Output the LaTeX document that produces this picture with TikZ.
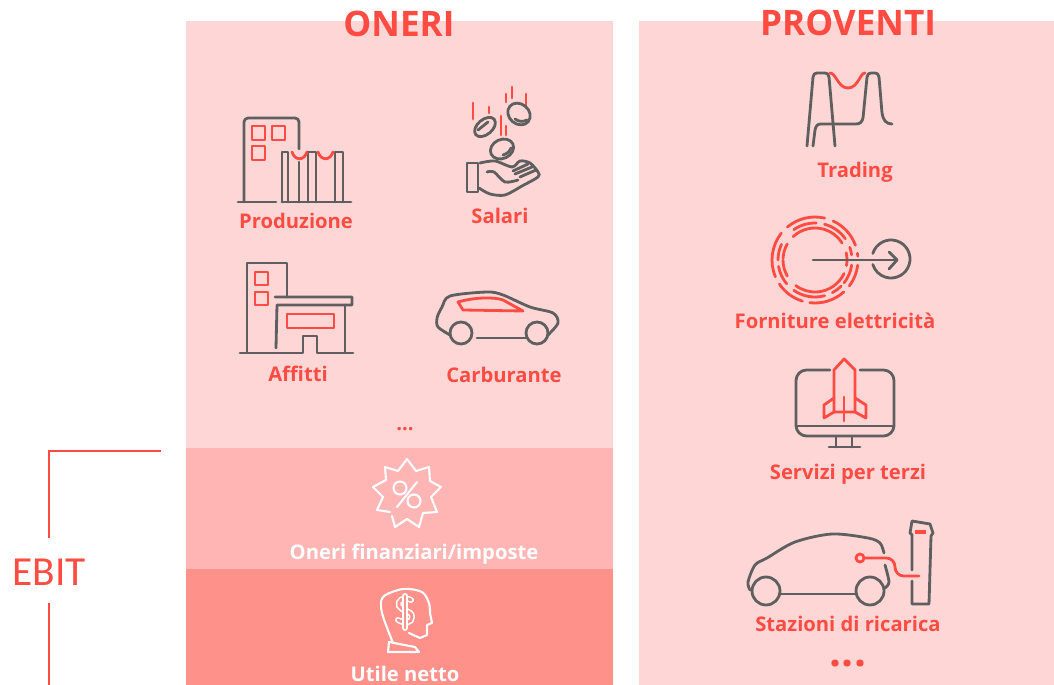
\documentclass[tikz,border=0pt]{standalone}
\usepackage{fontspec}
\setmainfont{Open Sans}
\newfontfamily\ebitfont{Carlito}
\definecolor{panelpink}{HTML}{FFD6D6}
\definecolor{bandpink}{HTML}{FFB5B3}
\definecolor{bandred}{HTML}{FF918B}
\definecolor{redtone}{HTML}{FF4B42}
\definecolor{graytone}{HTML}{5F5F5F}
\tikzset{
  panel/.style={draw=none,fill=panelpink},
  graystroke/.style={draw=graytone,line width=1.6pt,line cap=round,line join=round},
  redstroke/.style={draw=redtone,line width=1.6pt,line cap=round,line join=round},
  whitestroke/.style={draw=white,line width=1.2pt,line cap=round,line join=round},
  itemlabel/.style={text=redtone,font=\fontsize{11.5}{13}\selectfont\bfseries,inner sep=0pt},
  bandlabel/.style={itemlabel,text=white},
  headlabel/.style={text=redtone,font=\fontsize{20}{22}\selectfont\bfseries,inner sep=0pt}
}
\begin{document}
\begin{tikzpicture}[x=0.02cm,y=-0.02cm]
  \useasboundingbox (0,0) rectangle (1054,685);
  % panels
  \fill[panelpink] (186,21) rectangle (613,448);
  \fill[bandpink] (186,448) rectangle (613,569);
  \fill[bandred] (186,569) rectangle (613,685);
  \fill[panelpink] (639,21) rectangle (1054,685);
  \node[headlabel] (oneri) at (399,24) {ONERI};
  \node[headlabel] (proventi) at (848,23) {PROVENTI};
  % EBIT bracket
  \node[text=redtone,font=\fontsize{23.5}{26}\selectfont\ebitfont,inner sep=0pt] (ebit) at (49,572) {EBIT};
  \coordinate (ebittop) at (161,451);
  \coordinate (ebitcorner) at (49,451);
  \coordinate (ebitbottom) at (49,685);
  \draw[redtone,line width=1pt] (ebittop) -- (ebitcorner) -- (49,538);
  \draw[redtone,line width=1pt] (49,603) -- (ebitbottom);
  % Produzione
  \draw[graystroke] (244,202) -- (244,122) arc[start angle=180,end angle=270,radius=4] -- (295,118)
    arc[start angle=270,end angle=360,radius=4] -- (299,149);
  \draw[graystroke] (299,162) -- (299,202);
  \draw[graystroke] (238,202) -- (276,202);
  \draw[graystroke] (282,202) -- (351,202);
  \draw[graystroke] (282,202) -- (282,152) -- (288,152) -- (288,202);
  \draw[graystroke] (308,202) -- (308,152) -- (316,152) -- (316,202);
  \draw[graystroke] (335,202) -- (335,152) -- (343,152) -- (343,202);
  \draw[redstroke] (252,126) rectangle (265,140);
  \draw[redstroke] (272,126) rectangle (285,140);
  \draw[redstroke] (252,146) rectangle (265,160);
  \draw[redstroke] (292,152) .. controls (295,161) and (304,161) .. (307,152);
  \draw[redstroke] (318,152) .. controls (321,161) and (330,161) .. (333,152);
  \node[itemlabel] (produzione) at (296,221) {Produzione};
  % Salari
  \foreach \xa/\ya/\yb in {473/103/119,489/107/113,501/116/135,506/126/135,506/94/102,512/87/98,526/94/105}
    \draw[redstroke] (\xa,\ya) -- (\xa,\yb);
  \draw[graystroke,rotate around={40:(485,127)}] (485,127) ellipse [x radius=12,y radius=7.5];
  \draw[graystroke,rotate around={-40:(519,114)}] (519,114) ellipse [x radius=12,y radius=10];
  \draw[graystroke,rotate around={25:(502,149)}] (502,149) ellipse [x radius=12,y radius=9.5];
  \draw[graystroke] (478,130) -- (488,122);
  \draw[graystroke] (515,119) .. controls (519,122) and (523,122) .. (527,120);
  \draw[graystroke] (503,155) .. controls (507,154) and (510,151) .. (511,148);
  \draw[graystroke] (467,163) rectangle (478,192);
  \draw[graystroke] plot[smooth,tension=0.5] coordinates {(480,163) (495,161) (512,167) (520,161) (530,163) (538,172) (538,177) (522,186) (505,195) (490,194) (479,188)};
  \draw[graystroke] plot[smooth,tension=0.5] coordinates {(487,172) (494,172) (505,182) (518,180)};
  \draw[graystroke] (513,171) -- (528,164);
  \draw[graystroke] (515,174) -- (532,167);
  \draw[graystroke] (520,177) -- (536,170);
  \node[itemlabel] (salari) at (500,216) {Salari};
  % Affitti
  \draw[graystroke] (247,352) -- (247,263) -- (287,263) -- (287,297);
  \draw[graystroke] (275,297) -- (352,297) -- (352,305) -- (277,305) -- (276,348);
  \draw[graystroke] (345,305) -- (345,352);
  \draw[graystroke] (240,353) -- (303,353) -- (303,336) -- (317,336) -- (317,353) -- (353,353);
  \draw[redstroke] (255,272) rectangle (268,285);
  \draw[redstroke] (255,292) rectangle (268,305);
  \draw[redstroke] (287,314) rectangle (334,328);
  \node[itemlabel] (affitti) at (298,374) {Affitti};
  % Carburante
  \draw[graystroke] plot[smooth,tension=0.5] coordinates {(450,335) (438,327) (437,318) (442,307) (450,296) (487,292) (503,295) (530,307) (553,313) (558,323) (548,335)};
  \draw[graystroke] (461,333) circle [radius=11];
  \draw[graystroke] (537,333) circle [radius=11];
  \draw[graystroke] (477,338) -- (526,338);
  \draw[redstroke] (458,302) .. controls (475,297) and (495,297) .. (503,300) -- (523,311) -- (463,310) -- cycle;
  \node[itemlabel] (carburante) at (504,375) {Carburante};
  \node[itemlabel] (dotsoneri) at (405,429) {...};
  % Oneri finanziari
  \draw[whitestroke] (390,512) -- (377,510) -- (383,497) -- (373,487) -- (386,480) -- (385,467) -- (398,471) -- (407,459)
    -- (416,471) -- (429,467) -- (430,481) -- (441,487) -- (431,497) -- (437,512) -- (423,513) -- (419,527)
    -- (407,519) -- (395,527) -- (392,516);
  \draw[whitestroke] (417,482) -- (397,507);
  \draw[whitestroke] (400,488) circle [radius=6.5];
  \draw[whitestroke] (414,501) circle [radius=6.5];
  \node[bandlabel] (finanziari) at (414,554) {Oneri finanziari/imposte};
  % Utile netto
  \draw[whitestroke] plot[smooth,tension=0.5] coordinates {(393,643) (382,613) (383,597) (403,589) (422,592) (429,603) (430,613)};
  \draw[whitestroke] (430,613) -- (432,623) -- (427,625) -- (427,635) -- (420,638) -- (409,633);
  \draw[whitestroke] (389,642) -- (415,647) -- (419,652) -- (388,652) -- cycle;
  \draw[draw=white,line width=0.9pt,double=bandred,double distance=1.6pt,line cap=round] (411,600) .. controls (403,596) and (397,601) .. (399,606)
    .. controls (401,611) and (412,610) .. (412,617) .. controls (412,623) and (405,624) .. (398,620);
  \draw[draw=white,line width=0.9pt,double=bandred,double distance=1.6pt,line cap=round] (405,596) -- (405,628);
  \node[bandlabel] (utile) at (405,674) {Utile netto};
  % Trading
  \draw[graystroke] (807,146) -- (813,77) .. controls (813.5,74) and (815,73) .. (817,73) -- (825,73)
    .. controls (827,73) and (828.5,74) .. (829,77) -- (835,146);
  \draw[graystroke] (813,146) -- (815,130) .. controls (816,126) and (817,124) .. (821,124) -- (856,124)
    .. controls (860,124) and (862,122) .. (863,118) -- (867,77) .. controls (867.5,74) and (869,73) .. (871,73) -- (875,73)
    .. controls (877,73) and (878.5,74) .. (879,77) -- (882,113) .. controls (883,120) and (886,124) .. (892,124);
  \draw[redstroke] (830,73) .. controls (836,73) and (838,88) .. (848,88) .. controls (858,88) and (860,73) .. (865,73);
  \node[itemlabel] (trading) at (855,172) {Trading};
  % Forniture
  \coordinate (ringcentre) at (815,260);
  \foreach \rad/\sa/\ea in {43/230/283,43/295/340,43/351/355,43/367/397,43/408/457,43/467/506,43/517/578.5,
      37/235/272,37/285/325,37/340/352,37/368/398,37/405/422,37/435/485,37/500/530,37/540/565,
      32/227/328,32/347/370,32/385/487,32/510/540,32/543/570}
    \draw[redstroke] ([shift={(\sa:\rad)}]ringcentre) arc[start angle=\sa,end angle=\ea,radius=\rad];
  \draw[graystroke] (813,260) -- (897,260);
  \draw[graystroke] (889,252) -- (897,260) -- (889,269);
  \draw[graystroke] ([shift={(-163:19)}]891,259) arc[start angle=-163,end angle=163,radius=19];
  \node[itemlabel] (forniture) at (835,321) {Forniture elettricità};
  % Servizi
  \draw[graystroke,rounded corners=6] (830,370) -- (796,370) -- (796,436) -- (894,436) -- (894,370) -- (860,370);
  \draw[graystroke] (796,426) -- (894,426);
  \draw[graystroke] (836,437) -- (836,447);
  \draw[graystroke] (852,437) -- (852,447);
  \draw[graystroke] (829,447) -- (860,447);
  \draw[redstroke] (844,359) -- (855,370) -- (855,412) -- (834,412) -- (834,370) -- cycle;
  \draw[redstroke] (834,398) -- (824,405) -- (824,418) -- (834,412);
  \draw[redstroke] (855,398) -- (866,405) -- (866,418) -- (855,412);
  \draw[redstroke] (844,397) -- (844,421);
  \node[itemlabel] (servizi) at (848,474) {Servizi per terzi};
  % Stazioni
  \draw[graystroke] plot[smooth,tension=0.5] coordinates {(750,590) (748,582) (755,565) (767,558) (795,542) (832,534) (868,538) (880,543) (884,553)};
  \draw[graystroke] plot[smooth,tension=0.5] coordinates {(885,565) (889,582) (885,588)};
  \draw[graystroke] (766,591) circle [radius=14];
  \draw[graystroke] (870,591) circle [radius=14];
  \draw[graystroke] (779,594) -- (857,594);
  \draw[graystroke] (912,570) -- (912,535) -- (910,533) -- (912,521) -- (930,524) -- (933,533) -- (931,536)
    -- (929,604) -- (912,604) -- (912,581);
  \draw[redstroke] (860,558) circle [radius=4];
  \draw[redstroke,rounded corners=5] (864,558) -- (895,558) -- (895,576) -- (919,576);
  \draw[redtone,line width=0.6pt] (916,531) rectangle (925,533);
  \node[itemlabel] (stazioni) at (848,624) {Stazioni di ricarica};
  \node[itemlabel,font=\fontsize{24}{26}\selectfont\bfseries] (dotsproventi) at (848,664) {...};
\end{tikzpicture}
\end{document}
